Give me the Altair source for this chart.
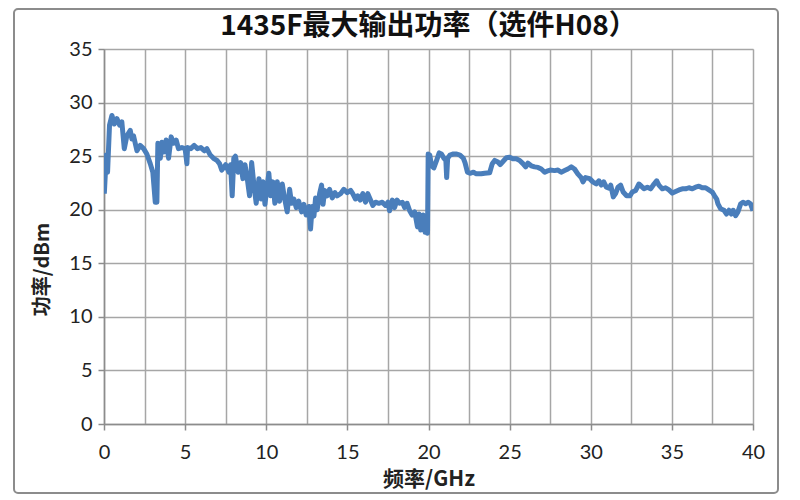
import altair as alt
import pandas as pd

freq = [0.02, 0.14, 0.22, 0.34, 0.49, 0.63, 0.80, 0.96, 1.10, 1.25, 1.41, 1.62, 1.72, 1.82, 2.03, 2.23, 2.44, 2.64, 2.85, 3.01, 3.16, 3.26, 3.32, 3.47, 3.57, 3.71, 3.83, 3.98, 4.14, 4.29, 4.45, 4.59, 4.80, 5.00, 5.11, 5.15, 5.35, 5.56, 5.76, 5.97, 6.18, 6.34, 6.55, 6.75, 6.96, 7.12, 7.26,
        7.5, 7.7, 7.8, 7.9, 8.0, 8.1, 8.27, 8.42, 8.56, 8.69, 8.83, 8.97, 9.1, 9.24, 9.38, 9.55, 9.69, 9.8, 9.92, 10.06, 10.16, 10.27, 10.41, 10.53, 10.68, 10.82, 10.99, 11.1, 11.29, 11.44, 11.56, 11.7, 11.85, 12.0, 12.18, 12.32, 12.46, 12.63, 12.73, 12.83, 12.94, 13.04, 13.14, 13.29, 13.41, 13.5, 13.6, 13.76, 13.9, 14.07, 14.23, 14.37, 14.58, 14.78, 14.99, 15.2,
        15.33, 15.5, 15.64, 15.79, 15.95, 16.12, 16.26, 16.4, 16.57, 16.74, 16.94, 17.15, 17.35, 17.5, 17.6, 17.77, 17.91, 18.06, 18.22, 18.39, 18.53, 18.68, 18.84, 18.99, 19.15, 19.32, 19.42, 19.52, 19.67, 19.79, 19.88, 19.94, 19.98, 20.08, 20.19, 20.33, 20.5, 20.66, 20.8, 20.95, 21.07, 21.12, 21.18, 21.32, 21.53, 21.74, 21.94, 22.15, 22.25, 22.4, 22.56, 22.77,
        22.95, 23.25, 23.46, 23.77, 23.93, 24.08, 24.28, 24.42, 24.59, 24.8, 25.0, 25.2, 25.41, 25.62, 25.82, 25.99, 26.13, 26.33, 26.54, 26.75, 26.95, 27.16, 27.3, 27.5, 27.77, 27.98, 28.18, 28.39, 28.59, 28.8, 29.0, 29.2, 29.41, 29.52, 29.68, 29.93, 30.13, 30.34, 30.5, 30.65, 30.8, 30.96, 31.16,
        31.23, 31.39, 31.53, 31.68, 31.84, 32.0, 32.21, 32.42, 32.56, 32.77, 32.97, 33.12, 33.28, 33.49, 33.69, 33.9, 34.06, 34.2, 34.41, 34.61, 34.82, 35.03, 35.23, 35.44, 35.64, 35.85, 36.05, 36.26, 36.46, 36.67, 36.87, 37.08, 37.28, 37.49, 37.63, 37.76, 37.84, 38.0, 38.21, 38.37, 38.52, 38.66, 38.78, 38.93, 39.07, 39.24, 39.4, 39.54, 39.69, 39.85, 40.0]

power = [21.5, 25.1, 23.5, 27.9, 28.8, 28.0, 28.5, 27.9, 28.2, 25.7, 26.9, 27.4, 26.6, 26.9, 25.5, 26.0, 25.7, 25.2, 24.3, 23.5, 20.7, 20.7, 26.2, 24.8, 26.3, 25.4, 26.5, 24.8, 26.8, 26.2, 26.5, 25.7, 25.8, 25.7, 24.3, 25.8, 25.7, 26.0, 25.7, 25.8, 25.5, 25.7, 25.1, 24.8, 24.6, 24.3, 23.7,
         24.2, 23.5, 24.2, 21.3, 24.8, 25.0, 23.5, 24.4, 22.9, 24.2, 22.9, 21.3, 24.4, 22.3, 20.6, 22.9, 21.0, 22.6, 20.5, 22.3, 23.4, 21.3, 22.6, 20.6, 22.6, 20.8, 22.4, 21.3, 19.8, 21.9, 20.6, 21.0, 20.2, 20.8, 19.8, 20.5, 19.5, 20.3, 18.2, 20.3, 19.4, 21.1, 20.0, 21.5, 22.3, 20.5, 21.8, 21.3, 21.9, 21.1, 21.6, 21.3, 21.5, 21.9, 21.6, 21.8,
         21.5, 21.0, 21.3, 20.9, 21.5, 20.7, 21.5, 21.0, 20.4, 20.7, 20.6, 20.7, 20.4, 20.7, 19.9, 20.9, 20.2, 20.9, 20.6, 20.7, 20.2, 20.6, 19.9, 19.5, 19.8, 18.4, 19.6, 18.1, 19.5, 17.9, 19.3, 17.8, 25.2, 25.1, 24.1, 23.9, 24.6, 25.3, 25.2, 24.8, 24.6, 23.0, 24.8, 25.1, 25.2, 25.2, 25.1, 24.8, 24.4, 23.5, 23.4, 23.5,
         23.35, 23.35, 23.4, 23.45, 24.3, 24.6, 24.45, 24.2, 24.5, 24.85, 24.9, 24.75, 24.75, 24.6, 24.3, 24.0, 24.35, 24.1, 24.0, 23.95, 23.8, 23.5, 23.6, 23.7, 23.65, 23.7, 23.5, 23.65, 23.8, 24.0, 23.8, 23.35, 23.0, 22.6, 23.0, 22.9, 22.6, 22.4, 22.7, 22.3, 22.6, 22.1, 22.0,
         22.3, 21.2, 21.5, 22.1, 22.3, 21.65, 21.3, 21.3, 21.65, 21.8, 22.4, 22.2, 21.95, 22.1, 21.95, 22.4, 22.7, 22.3, 21.95, 22.05, 21.85, 21.55, 21.7, 21.85, 21.95, 21.95, 22.05, 21.95, 22.1, 22.2, 22.05, 22.05, 21.85, 21.65, 21.3, 21.0, 20.55, 20.1, 19.95, 19.6, 19.95, 19.6, 19.95, 19.45, 19.8, 20.55, 20.7, 20.55, 20.7, 20.55, 19.9]

x_grid = [i * 2.5 for i in range(17)]
y_ticks = [0, 5, 10, 15, 20, 25, 30, 35]

df = pd.DataFrame({"freq": freq, "power": power})

LABEL_FONT = "Lato"
CJK_FONT = "Noto Sans CJK SC"
GRID = "#a6a6a6"
AXC = "#8c8c8c"

line = alt.Chart(df).mark_line(color="#4a7ebb", strokeWidth=5, strokeJoin="round", clip=True).encode(
    x=alt.X("freq:Q", scale=alt.Scale(domain=[0, 40], nice=False, zero=False),
            axis=alt.Axis(values=x_grid, grid=True, gridColor=GRID, gridWidth=1.5,
                          labelExpr="datum.value % 5 === 0 ? datum.label : ''",
                          tickOpacity={"condition": {"test": "datum.value % 5 === 0", "value": 1}, "value": 0},
                          tickSize=6, tickColor=AXC, tickWidth=1.5,
                          domainColor=AXC, domainWidth=1.5,
                          labelFont=LABEL_FONT, labelFontSize=20, labelColor="#222222", labelPadding=12,
                          labelFlush=False,
                          title="频率/GHz", titleFont=CJK_FONT, titleFontSize=21, titleFontWeight="bold",
                          titleColor="#222222", titlePadding=6)),
    y=alt.Y("power:Q", scale=alt.Scale(domain=[0, 35], nice=False),
            axis=alt.Axis(values=y_ticks, grid=True, gridColor=GRID, gridWidth=1.5,
                          tickSize=6, tickColor=AXC, tickWidth=1.5,
                          domainColor=AXC, domainWidth=1.5,
                          labelFont=LABEL_FONT, labelFontSize=20, labelColor="#222222", labelPadding=6,
                          labelFlush=False,
                          title="功率/dBm", titleFont=CJK_FONT, titleFontSize=20, titleFontWeight="bold",
                          titleColor="#222222", titleX=-62, titleY=220, titleAngle=270,
                          titleAlign="center", titleBaseline="middle")),
)

frame = alt.Chart(alt.Data(values=[{"a": 1}])).mark_rect(
    fill=None, stroke="#8c8c8c", strokeWidth=2, cornerRadius=4, clip=False
).encode(x=alt.value(-90), x2=alt.value(674), y=alt.value(-40), y2=alt.value(444))

chart = alt.layer(frame, line).properties(
    width=649, height=375,
    autosize=alt.AutoSizeParams(type="none"),
    padding={"left": 96, "top": 41, "right": 39, "bottom": 70},
    title=alt.TitleParams("1435F最大输出功率（选件H08）", font=CJK_FONT, fontSize=28,
                          fontWeight="bold", color="#111111", anchor="middle", frame="group", offset=-33),
).configure_view(stroke=GRID, strokeWidth=1.5).configure(background="white")

chart.save("out.html", embed_options={"renderer": "svg", "actions": False})
